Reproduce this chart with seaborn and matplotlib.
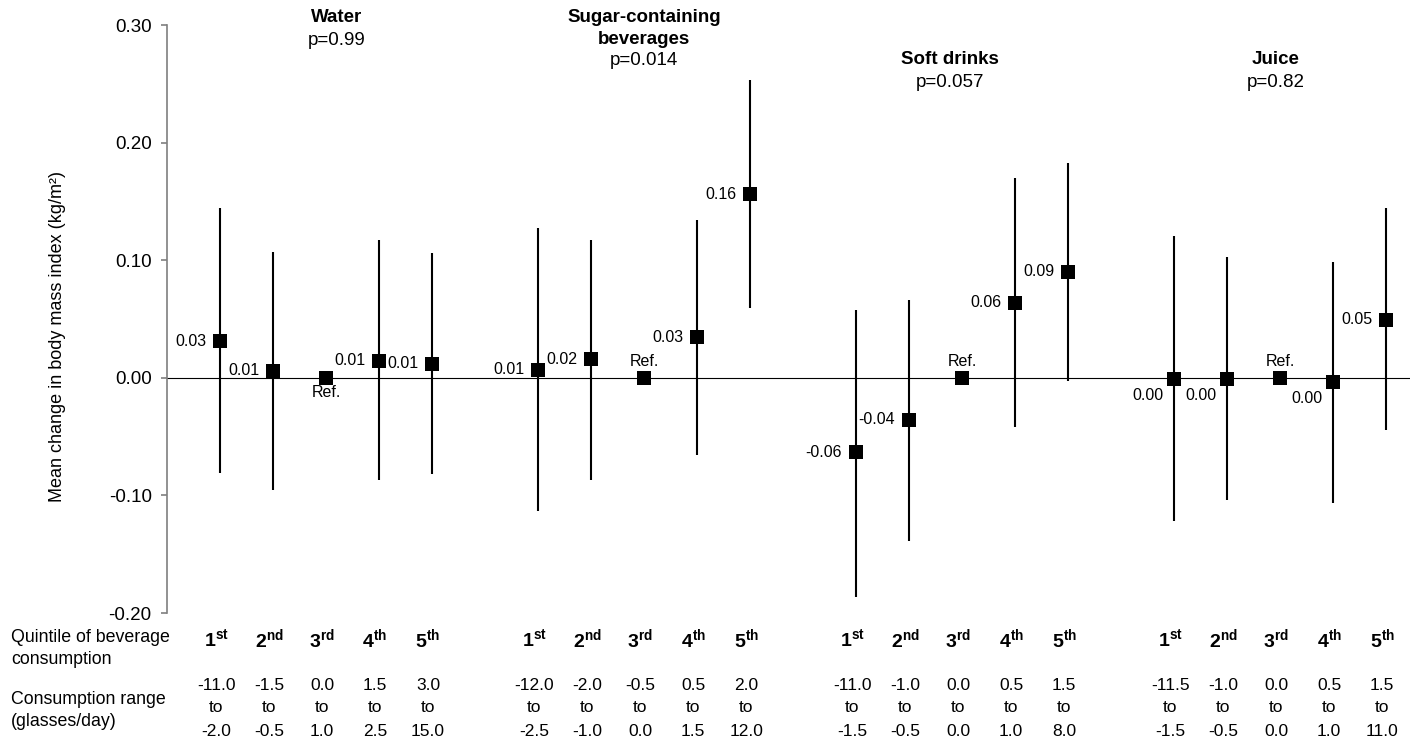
import matplotlib
matplotlib.use("Agg")
import matplotlib.pyplot as plt
import matplotlib.transforms as mtransforms
import numpy as np
import pandas as pd
import seaborn as sns

# Beverage groups and their trend p-values
groups = ["Water", "Sugar-containing\nbeverages", "Soft drinks", "Juice"]
p_values = ["p=0.99", "p=0.014", "p=0.057", "p=0.82"]

# Quintile labels (number + suffix)
quintile_nums = ["1", "2", "3", "4", "5"]
quintile_suffix = ["st", "nd", "rd", "th", "th"]

# Mean change in BMI (kg/m2) per quintile, 3rd quintile is the reference
water_est = [0.031, 0.006, 0.0, 0.0147, 0.012]
water_low = [-0.081, -0.095, np.nan, -0.087, -0.082]
water_high = [0.144, 0.107, np.nan, 0.117, 0.106]

sugar_est = [0.007, 0.0156, 0.0, 0.0345, 0.156]
sugar_low = [-0.1135, -0.087, np.nan, -0.066, 0.059]
sugar_high = [0.1275, 0.117, np.nan, 0.134, 0.253]

soft_est = [-0.0635, -0.0355, 0.0, 0.0637, 0.090]
soft_low = [-0.186, -0.139, np.nan, -0.042, -0.0025]
soft_high = [0.058, 0.0665, np.nan, 0.170, 0.1825]

juice_est = [-0.0006, -0.0006, 0.0, -0.0037, 0.0495]
juice_low = [-0.122, -0.1035, np.nan, -0.1065, -0.0445]
juice_high = [0.121, 0.1025, np.nan, 0.0985, 0.144]

# Consumption ranges (glasses/day)
water_from = ["-11.0", "-1.5", "0.0", "1.5", "3.0"]
water_to = ["-2.0", "-0.5", "1.0", "2.5", "15.0"]
sugar_from = ["-12.0", "-2.0", "-0.5", "0.5", "2.0"]
sugar_to = ["-2.5", "-1.0", "0.0", "1.5", "12.0"]
soft_from = ["-11.0", "-1.0", "0.0", "0.5", "1.5"]
soft_to = ["-1.5", "-0.5", "0.0", "1.0", "8.0"]
juice_from = ["-11.5", "-1.0", "0.0", "0.5", "1.5"]
juice_to = ["-1.5", "-0.5", "0.0", "1.0", "11.0"]

estimates = [water_est, sugar_est, soft_est, juice_est]
lows = [water_low, sugar_low, soft_low, juice_low]
highs = [water_high, sugar_high, soft_high, juice_high]
range_from = [water_from, sugar_from, soft_from, juice_from]
range_to = [water_to, sugar_to, soft_to, juice_to]

# Where each value label goes (style only)
label_place = [
    ["left", "left", "ref_below", "left", "left"],
    ["left", "left", "ref_above", "left", "left"],
    ["left", "left", "ref_above", "left", "left"],
    ["below_left", "below_left", "ref_above", "below_left", "left"],
]

# Build a long table for seaborn
rows = []
for g in range(len(groups)):
    for q in range(5):
        rows.append({"group": g, "quintile": q, "pos": g * 6 + q + 1,
                     "est": estimates[g][q], "low": lows[g][q], "high": highs[g][q]})
df = pd.DataFrame(rows)

sns.set_style("ticks")
plt.rcParams["font.family"] = ["Liberation Sans", "DejaVu Sans"]
plt.rcParams["mathtext.fontset"] = "custom"
plt.rcParams["mathtext.rm"] = "Liberation Sans"
plt.rcParams["mathtext.bf"] = "Liberation Sans:bold"
plt.rcParams["text.color"] = "black"
plt.rcParams["axes.labelcolor"] = "black"
plt.rcParams["ytick.labelcolor"] = "black"

W, H = 1423, 746
fig = plt.figure(figsize=(W / 100, H / 100), dpi=100)
ax = fig.add_axes([167 / W, 1 - 613 / H, (1410 - 167) / W, (613 - 25) / H])

# Zero reference line
ax.axhline(0, color="black", lw=0.8, zorder=1)

# Confidence intervals
ci = df.dropna(subset=["low", "high"])
ax.vlines(ci["pos"], ci["low"], ci["high"], color="black", lw=1.5, zorder=2)

# Point estimates
sns.scatterplot(data=df, x="pos", y="est", marker="s", s=95, color="black",
                linewidth=0, ax=ax, zorder=3, legend=False)

ax.set_xlim(0, 23.45)
ax.set_ylim(-0.2, 0.3)
ax.set_yticks(np.arange(-0.2, 0.31, 0.1))
ax.set_yticklabels([f"{t:.2f}" for t in np.arange(-0.2, 0.31, 0.1)])
ax.set_xticks([])
ax.set_xlabel("")
ax.set_ylabel("")
for side in ["top", "right", "bottom"]:
    ax.spines[side].set_visible(False)
ax.spines["left"].set_color("#7f7f7f")
ax.spines["left"].set_linewidth(1.2)
ax.tick_params(axis="y", length=4, width=1.2, color="#7f7f7f", labelcolor="black",
               labelsize=13.5, pad=7)

fig.text(57 / W, 1 - 337 / H, "Mean change in body mass index (kg/m²)",
         rotation=90, ha="center", va="center", fontsize=13, color="black")

# Value labels next to the markers
offsets = {"left": ((-10, 0), "right", "center"),
           "below_left": ((-8, -12), "right", "center"),
           "ref_above": ((0, 11.5), "center", "center"),
           "ref_below": ((0, -10.5), "center", "center")}
for _, r in df.iterrows():
    g, q = int(r["group"]), int(r["quintile"])
    place = label_place[g][q]
    if place.startswith("ref"):
        lab = "Ref."
    else:
        lab = f"{r['est']:.2f}"
        if lab == "-0.00":
            lab = "0.00"
    (dx, dy), ha, va = offsets[place]
    ax.annotate(lab, (r["pos"], r["est"]), xytext=(dx, dy), textcoords="offset points",
                ha=ha, va=va, fontsize=11.5, color="black")

# Group titles and p-values (above the plotting area)
title_shift = [0.2, 0.0, -0.23, -0.08]
title_y = [[0.306], [0.306, 0.2875], [0.2705], [0.2705]]
p_y = [0.2865, 0.2695, 0.2515, 0.2515]
for g in range(len(groups)):
    xc = g * 6 + 3 + title_shift[g]
    for line, yy in zip(groups[g].split("\n"), title_y[g]):
        ax.text(xc, yy, line, ha="center", va="center", fontsize=13.5,
                fontweight="bold", color="black", clip_on=False)
    ax.text(xc, p_y[g], p_values[g], ha="center", va="center", fontsize=13.5,
            color="black", clip_on=False)

# Table under the plot
trans = mtransforms.blended_transform_factory(ax.transData, fig.transFigure)
shift = mtransforms.ScaledTranslation(-4 / 100, 0, fig.dpi_scale_trans)
tt = trans + shift
for g in range(len(groups)):
    for q in range(5):
        x = g * 6 + q + 1
        ax.text(x, 1 - 640 / H, rf"$\mathbf{{{quintile_nums[q]}}}^{{\mathbf{{{quintile_suffix[q]}}}}}$",
                transform=tt, ha="center", va="center", fontsize=14, color="black", clip_on=False)
        ax.text(x, 1 - 685 / H, range_from[g][q], transform=tt, ha="center", va="center",
                fontsize=12.5, color="black", clip_on=False)
        ax.text(x, 1 - 708 / H, "to", transform=tt, ha="center", va="center",
                fontsize=12.5, color="black", clip_on=False)
        ax.text(x, 1 - 731 / H, range_to[g][q], transform=tt, ha="center", va="center",
                fontsize=12.5, color="black", clip_on=False)

left_rows = [("Quintile of beverage", 638), ("consumption", 660),
             ("Consumption range", 699), ("(glasses/day)", 721)]
for txt, ypx in left_rows:
    fig.text(11 / W, 1 - ypx / H, txt, ha="left", va="center", fontsize=12.8, color="black")

fig.savefig("out.png", dpi=100)
